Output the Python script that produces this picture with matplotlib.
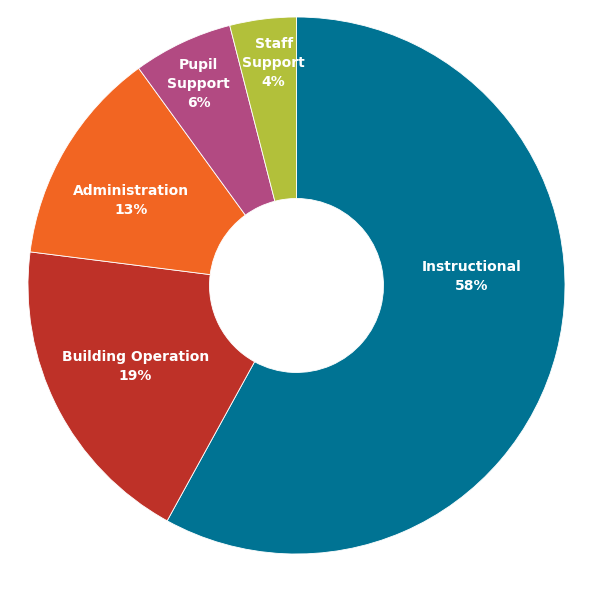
import matplotlib.pyplot as plt

# Data
categories = ["Instructional", "Building Operation", "Administration", "Pupil Support", "Staff Support"]
shares = [58, 19, 13, 6, 4]
label_text = ["Instructional", "Building Operation", "Administration", "Pupil\nSupport", "Staff\nSupport"]
colors = ["#007393", "#BE3128", "#F26522", "#B24A82", "#B2C03A"]

# label positions (axes data units, pie radius = 1)
label_pos = [(0.654, 0.035), (-0.601, -0.300), (-0.616, 0.318), (-0.365, 0.750), (-0.085, 0.829)]

fig = plt.figure(figsize=(5.93, 6.06), dpi=100)
ax = fig.add_axes([28 / 593, 52 / 606, 537 / 593, 537 / 606])

ax.pie(shares, colors=colors, startangle=90, counterclock=False, radius=1,
       wedgeprops=dict(width=1 - 87 / 268.5, edgecolor="white", linewidth=0.6))
ax.set_xlim(-1, 1)
ax.set_ylim(-1, 1)
ax.axis("off")

for name, val, (x, y) in zip(label_text, shares, label_pos):
    ax.text(x, y, f"{name}\n{val}%", ha="center", va="center", color="white",
            fontsize=10, fontweight="bold", family="DejaVu Sans", linespacing=1.45)

fig.savefig("out.png", dpi=100)
